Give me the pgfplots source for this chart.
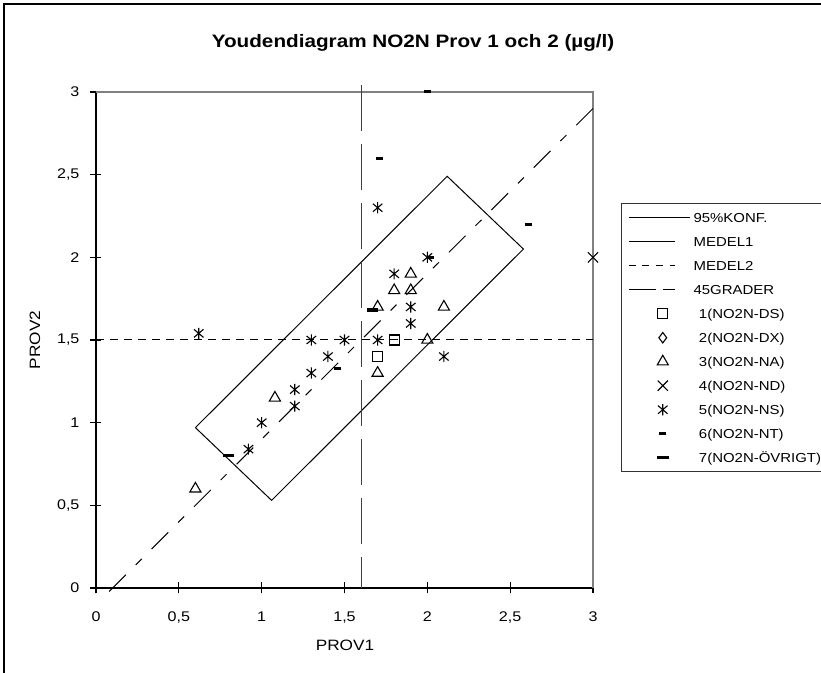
\documentclass[border=0pt]{standalone}
\usepackage{fontspec}
\setmainfont{Liberation Sans}[FakeStretch=1.15]
\usepackage{pgfplots}
\pgfplotsset{compat=1.18}
\pgfdeclareplotmark{ast}{%
  \pgfpathmoveto{\pgfpoint{0pt}{\pgfplotmarksize}}%
  \pgfpathlineto{\pgfpoint{0pt}{-\pgfplotmarksize}}%
  \pgfpathmoveto{\pgfpoint{-0.85\pgfplotmarksize}{0.72\pgfplotmarksize}}%
  \pgfpathlineto{\pgfpoint{0.85\pgfplotmarksize}{-0.72\pgfplotmarksize}}%
  \pgfpathmoveto{\pgfpoint{-0.85\pgfplotmarksize}{-0.72\pgfplotmarksize}}%
  \pgfpathlineto{\pgfpoint{0.85\pgfplotmarksize}{0.72\pgfplotmarksize}}%
  \pgfusepathqstroke}
\pgfplotsset{
  mk/.style={only marks, black, mark options={line width=0.55pt, solid},
    legend image code/.code={\draw[##1] plot coordinates {(17pt,0pt)};}},
}
\begin{document}
\begin{tikzpicture}
\useasboundingbox (0,0) rectangle (410.5pt,336.5pt);
\draw[line width=0.6pt] (2pt,0pt) -- (2pt,334.5pt) -- (410.5pt,334.5pt);
\begin{axis}[
  at={(48pt,42.5pt)}, anchor=south west,
  scale only axis, width=248.5pt, height=248pt,
  xmin=0, xmax=3, ymin=0, ymax=3,
  clip=false,
  axis x line*=bottom, axis y line*=left,
  axis line style={line width=0.6pt, -},
  xtick={0,0.5,1,1.5,2,2.5,3}, ytick={0,0.5,1,1.5,2,2.5,3},
  xticklabels={0,{0,5},1,{1,5},2,{2,5},3},
  yticklabels={0,{0,5},1,{1,5},2,{2,5},3},
  tick align=center, major tick length=5.5pt,
  tick style={line width=0.6pt, black},
  tick label style={font=\fontsize{7}{8}\selectfont},
  xticklabel style={yshift=-5.5pt},
  yticklabel style={xshift=-2pt},
  xlabel={PROV1},
  xlabel style={at={(axis description cs:0.501,-0.115)}, anchor=center, font=\fontsize{7.5}{9}\selectfont},
  ylabel={PROV2},
  ylabel style={at={(axis description cs:-0.1227,0.5)}, anchor=center, font=\fontsize{7.5}{9}\selectfont},
  title={Youdendiagram NO2N Prov 1 och 2 (µg/l)},
  every axis title shift=0pt,
  title style={at={(axis description cs:0.638,1.1)}, anchor=center, font=\fontsize{9}{11}\selectfont\bfseries},
  legend cell align=left,
  legend style={at={(axis description cs:1.0563,0.776)}, anchor=north west,
    draw=black!80, line width=0.6pt, inner xsep=3.35pt, inner ysep=1pt,
    column sep=1.45pt, row sep=0pt, font=\fontsize{6.5}{8}\selectfont,
    nodes={inner xsep=0pt, inner ysep=0.6pt, text height=7.6pt, text depth=3.2pt}},
]
\draw[gray, line width=0.6pt] (rel axis cs:0,1) -- (rel axis cs:1,1) -- (rel axis cs:1,0);

% 95% KONF
\addplot[line width=0.5pt, black, line join=miter,
  legend image code/.code={\draw[line width=0.5pt,black] (0pt,0pt) -- (30.7pt,0pt);}]
  coordinates {(0.60,0.97) (2.12,2.49) (2.58,2.05) (1.06,0.53) (0.60,0.97)};
\addlegendentry{95\%KONF.}
% MEDEL1
\addplot[line width=0.5pt, black!75, dash pattern=on 23pt off 6.5pt,
  legend image code/.code={\draw[line width=0.5pt,black] (0pt,0pt) -- (23pt,0pt);}]
  coordinates {(1.6,3.04) (1.6,0)};
\addlegendentry{MEDEL1}
% MEDEL2
\addplot[line width=0.5pt, black, dash pattern=on 4pt off 3pt,
  legend image code/.code={\draw[line width=0.5pt,black,dash pattern=on 3.4pt off 3.4pt] (0pt,0pt) -- (23pt,0pt);}]
  coordinates {(0,1.502) (3,1.502)};
\addlegendentry{MEDEL2}
% 45GRADER
\addplot[line width=0.5pt, black, dash pattern=on 11.8pt off 7pt on 4.2pt off 7pt,
  legend image code/.code={\draw[line width=0.5pt,black,dash pattern=on 13.5pt off 3.5pt on 6pt off 10pt] (0pt,0pt) -- (23pt,0pt);}]
  coordinates {(3,2.9) (0.04,-0.06)};
\addlegendentry{45GRADER}

% 1 (NO2N-DS) squares
\addplot[mk, mark=square, mark size=2.5pt] coordinates {(1.7,1.4) (1.8,1.5)};
\addlegendentry{\hspace*{2.7pt}1(NO2N-DS)}
% 2 (NO2N-DX) diamonds: no points
\addlegendimage{mk, mark=diamond, mark size=2.6pt}
\addlegendentry{\hspace*{2.7pt}2(NO2N-DX)}
% 3 (NO2N-NA) triangles
\addplot[mk, mark=triangle, mark size=3.2pt] coordinates {
  (0.6,0.6) (1.08,1.15) (1.7,1.3) (1.7,1.7) (1.8,1.8) (1.9,1.8) (1.9,1.9) (2.0,1.5) (2.1,1.7)};
\addlegendentry{\hspace*{2.7pt}3(NO2N-NA)}
% 4 (NO2N-ND) crosses
\addplot[mk, mark=x, mark size=3.6pt] coordinates {(3.0,2.0)};
\addlegendentry{\hspace*{2.7pt}4(NO2N-ND)}
% 5 (NO2N-NS) asterisks
\addplot[mk, mark=ast, mark size=2.8pt] coordinates {
  (0.62,1.54) (0.92,0.84) (1.0,1.0) (1.2,1.1) (1.2,1.2) (1.3,1.3) (1.3,1.5) (1.4,1.4)
  (1.5,1.5) (1.7,1.5) (1.7,2.3) (1.8,1.9) (1.9,1.7) (1.9,1.6) (2.0,2.0) (2.1,1.4)};
\addlegendentry{\hspace*{2.7pt}5(NO2N-NS)}
% 6 (NO2N-NT) small bars
\addplot[mk, mark=-, mark size=1.75pt, mark options={line width=1.5pt}] coordinates {
  (1.46,1.33) (1.71,2.6) (2.0,3.0) (2.61,2.2) (2.02,2.0)};
\addlegendentry{\hspace*{2.7pt}6(NO2N-NT)}
% 7 (NO2N-ÖVRIGT) thick bars
\addplot[mk, mark=-, mark size=2.9pt, mark options={line width=1.75pt}] coordinates {
  (0.8,0.8) (1.67,1.68)};
\addlegendentry{\hspace*{2.7pt}7(NO2N-ÖVRIGT)\hspace*{4pt}}
\end{axis}
\end{tikzpicture}
\end{document}
